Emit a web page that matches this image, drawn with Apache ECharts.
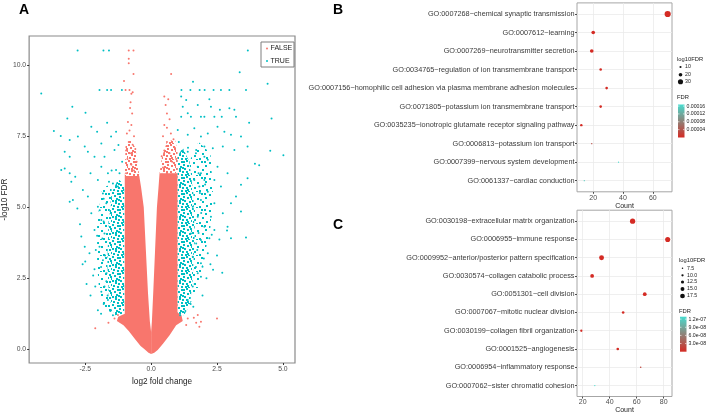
<!DOCTYPE html>
<html>
<head>
<meta charset="utf-8">
<script src="https://cdn.jsdelivr.net/npm/echarts@6/dist/echarts.min.js"></script>
<style>
  html, body { margin: 0; padding: 0; background: #fff; }
  #chart { width: 708px; height: 415px; }
</style>
</head>
<body>
<div id="chart"></div>
<script>
// ---- panel A : volcano (log2 fold change, -log10 FDR) ----
// dense parts of the cloud, read as outlines
const pinkLeftArm = [
  [-1.0, 6.1], [-1.0, 1.25], [-1.25, 1.15], [-1.3, 1.0], [-1.05, 0.85], [-0.85, 0.65],
  [-0.6, 0.35], [-0.4, 0.12], [-0.25, 0.0], [-0.1, -0.12], [0.0, -0.16], [0.0, 0.6],
  [-0.05, 1.0], [-0.12, 2.0], [-0.2, 3.5], [-0.28, 5.0], [-0.38, 5.7], [-0.45, 6.1]
];
const pinkRightArm = [
  [0.0, -0.16], [0.12, -0.12], [0.25, -0.02], [0.45, 0.2], [0.7, 0.5], [0.95, 0.85], [1.2, 1.0],
  [1.15, 1.2], [1.0, 1.3], [1.0, 6.2], [0.32, 6.2], [0.28, 5.7], [0.22, 5.0], [0.15, 3.5],
  [0.08, 2.0], [0.03, 1.0], [0.0, 0.6]
];
const pinkLeftTop = [[-1.0, 6.1], [-0.45, 6.1], [-0.52, 6.6], [-0.6, 7.1], [-0.8, 7.4], [-0.97, 7.2]];
const pinkRightTop = [[0.32, 6.2], [1.0, 6.2], [1.0, 7.0], [0.9, 7.4], [0.6, 7.3], [0.42, 6.8]];
const cyanLeftInner = [
  [-1.02, 1.25], [-1.02, 5.8], [-1.25, 6.0], [-1.5, 5.5], [-1.62, 4.5], [-1.66, 3.0], [-1.6, 1.8], [-1.38, 1.2]
];
const cyanLeftOuter = [
  [-1.5, 5.8], [-1.85, 5.7], [-2.05, 4.5], [-2.05, 3.0], [-1.95, 1.8], [-1.7, 1.3], [-1.38, 1.2],
  [-1.6, 1.8], [-1.66, 3.0], [-1.62, 4.5], [-1.5, 5.5]
];
const cyanRightInner = [
  [1.0, 1.25], [1.0, 6.8], [1.2, 7.1], [1.45, 6.6], [1.6, 5.5], [1.65, 4.0], [1.58, 2.5], [1.48, 1.6], [1.25, 1.2]
];
const cyanRightOuter = [
  [1.45, 6.6], [1.8, 7.3], [2.25, 6.9], [2.35, 5.5], [2.25, 4.3], [2.0, 3.2], [1.8, 2.2], [1.48, 1.6],
  [1.58, 2.5], [1.65, 4.0], [1.6, 5.5]
];
// single genes outside the dense parts
const falsePoints = [
  [-0.85, 10.52], [-0.67, 10.52], [-0.85, 10.23], [-0.85, 10.07], [-0.67, 9.69], [0.76, 9.69],
  [-1.03, 9.45], [-0.97, 9.13], [-0.82, 9.13],
  [-0.75, 9.0], [-0.7, 9.05], [-0.78, 8.7], [-0.8, 8.5], [-0.72, 8.3], [-0.88, 8.0], [-0.75, 7.9],
  [-0.82, 7.7], [-0.92, 7.6], [-0.65, 7.5], [-0.85, 7.3], [-0.7, 7.2], [-0.95, 7.0], [-0.6, 7.05],
  [-0.8, 6.9], [-0.9, 6.7], [-0.55, 6.6], [-0.75, 6.5], [-0.65, 6.3], [-0.95, 6.2], [-0.5, 6.1],
  [0.5, 8.9], [0.55, 8.6], [0.65, 8.8], [0.6, 8.3], [0.7, 8.1], [0.5, 7.9], [0.6, 7.8], [0.75, 7.6],
  [0.45, 7.5], [0.85, 7.4], [0.6, 7.3], [0.9, 7.1], [0.5, 7.0], [0.7, 6.9], [0.4, 6.8], [0.95, 6.7],
  [0.8, 6.6], [0.45, 6.4], [0.6, 6.2],
  [1.62, 1.11], [1.77, 1.21], [1.71, 0.94], [1.89, 0.97], [1.83, 0.8], [2.5, 1.09], [-2.12, 0.74],
  [-1.62, 0.94], [-1.39, 1.09], [-1.26, 1.21], [1.39, 1.09], [1.33, 0.86]
];
const truePoints = [
  [-2.79, 10.52], [-1.81, 10.52], [-1.6, 10.52], [3.67, 10.52], [3.36, 9.75], [-4.17, 9.01], [1.59, 9.42], [4.42, 9.35],
  [-1.96, 9.13], [-1.67, 9.13], [-1.52, 9.13], [-1.11, 9.13],
  [1.15, 9.13], [1.49, 9.13], [1.84, 9.13], [2.03, 9.13], [2.37, 9.13], [2.65, 9.13], [2.97, 9.13], [3.6, 9.13],
  [-2.99, 8.54], [-3.18, 8.13], [-2.49, 8.33], [4.57, 8.13], [3.72, 7.98],
  [-3.69, 7.69], [-3.43, 7.51], [-3.09, 7.37], [-3.28, 6.96], [-3.09, 6.78], [-2.78, 7.49], [-2.52, 7.14],
  [-2.27, 7.84], [-2.05, 7.66], [-1.89, 7.25], [-1.67, 7.98], [-1.52, 7.49], [-1.33, 7.66], [-1.24, 7.19],
  [-1.39, 7.02], [-1.77, 6.78], [-2.15, 6.78], [-2.4, 6.96],
  [-3.41, 6.31], [-3.28, 6.37], [-3.09, 6.2], [-3.03, 5.9], [-2.88, 6.08], [-3.09, 5.2], [-2.97, 5.26],
  [-2.8, 4.96], [-2.65, 3.97], [-2.52, 3.61], [-2.5, 3.09], [-2.34, 3.38], [-2.15, 2.82], [-2.02, 1.38],
  [-1.89, 2.03], [-2.12, 2.21], [-2.15, 4.2], [-2.27, 4.79], [-2.4, 5.38], [-2.59, 5.61], [-2.3, 6.2],
  [-2.02, 5.96], [-1.83, 5.49], [-1.89, 6.43], [-1.64, 6.2], [-1.45, 5.84], [-1.33, 6.31], [-1.26, 5.73],
  [-1.7, 5.14], [-2.02, 5.02], [-1.89, 4.55], [-1.77, 4.08], [-1.96, 3.61], [-1.83, 3.14], [-1.7, 2.68],
  [-1.77, 2.21], [-1.64, 1.74], [-1.52, 1.38],
  [-1.8, 4.5], [-1.85, 3.9], [-1.75, 3.3], [-1.9, 2.9], [-1.7, 2.4], [-1.65, 1.9], [-1.8, 1.6], [-1.55, 1.35],
  [-1.95, 4.9], [-1.8, 5.3], [-1.6, 5.9], [-1.5, 6.3], [-1.2, 6.2], [-1.1, 6.6], [-2.1, 3.5], [-2.2, 2.6],
  [-2.05, 4.0], [-2.3, 1.9], [-1.9, 1.25], [-1.45, 1.2], [-2.45, 2.3], [-2.6, 3.0], [-2.7, 4.4],
  [1.14, 8.9], [1.33, 8.78], [1.2, 8.54], [1.39, 8.31], [1.77, 8.6], [2.27, 8.54], [2.61, 8.43], [2.21, 8.8],
  [3.16, 8.43], [2.97, 8.49],
  [1.14, 8.19], [1.51, 8.19], [1.89, 8.19], [2.02, 8.19], [2.4, 8.19], [2.68, 8.19], [3.22, 8.19],
  [1.01, 7.72], [1.39, 7.55], [1.64, 7.78], [1.89, 7.49], [2.15, 7.6], [2.52, 7.84], [2.78, 7.66], [3.03, 7.55],
  [3.41, 7.49], [3.66, 7.14], [3.16, 7.02], [2.72, 7.14], [2.34, 7.08], [2.02, 7.14], [1.71, 7.02], [1.39, 6.96],
  [4.52, 6.99], [5.02, 6.83], [3.94, 6.53], [4.1, 6.48], [3.66, 6.02], [3.41, 5.79], [3.22, 5.38], [3.03, 5.14],
  [3.41, 4.85], [2.9, 4.32], [3.6, 3.94], [2.59, 3.87], [2.88, 4.18], [2.21, 3.91], [2.3, 4.03], [3.03, 3.91],
  [2.15, 6.67], [2.52, 6.43], [2.9, 6.2], [2.4, 5.96], [2.65, 5.73], [2.15, 5.55], [1.89, 5.26], [2.4, 5.14],
  [2.72, 4.79], [2.27, 4.67], [2.02, 4.32], [2.4, 4.2], [1.89, 3.85], [2.15, 3.38], [1.89, 3.03], [1.77, 2.68],
  [1.95, 2.91], [1.58, 2.21], [1.39, 1.74], [1.89, 2.56], [2.02, 6.78], [1.77, 6.43], [1.89, 6.2], [1.64, 5.96],
  [1.83, 5.73], [2.02, 5.96], [1.58, 5.02], [1.77, 4.67], [1.51, 4.08], [1.71, 3.73], [1.58, 3.26],
  [1.7, 6.9], [1.8, 6.2], [1.85, 5.5], [1.9, 4.8], [1.8, 4.1], [1.75, 3.5], [1.7, 2.9], [1.65, 2.3],
  [1.5, 1.6], [1.3, 1.35], [1.1, 1.2], [1.2, 7.0], [1.05, 7.3], [1.4, 7.1], [2.0, 3.2], [2.1, 2.5],
  [2.25, 3.0], [2.35, 2.8], [1.95, 1.9], [2.05, 5.8], [1.6, 1.5], [2.5, 3.3], [2.7, 2.7]
];
const volcanoXTicks = [-2.5, 0, 2.5, 5];
const volcanoYTicks = [0, 2.5, 5, 7.5, 10];

// ---- panel B : GO terms, up ----
const bTerms = [
  'GO:0007268~chemical synaptic transmission',
  'GO:0007612~learning',
  'GO:0007269~neurotransmitter secretion',
  'GO:0034765~regulation of ion transmembrane transport',
  'GO:0007156~homophilic cell adhesion via plasma membrane adhesion molecules',
  'GO:0071805~potassium ion transmembrane transport',
  'GO:0035235~ionotropic glutamate receptor signaling pathway',
  'GO:0006813~potassium ion transport',
  'GO:0007399~nervous system development',
  'GO:0061337~cardiac conduction'
];
const bCount = [70, 20, 19, 25, 29, 25, 12, 19, 37, 14];
const bLog10FDR = [37, 20, 20, 13, 13, 13, 12, 4.5, 3.78, 3.82];
const bSizeBreaks = [10, 20, 30];
const bFdrBreaks = [0.00016, 0.00012, 0.00008, 0.00004];
const bFdrMax = 0.000168;

// ---- panel C : GO terms, down ----
const cTerms = [
  'GO:0030198~extracellular matrix organization',
  'GO:0006955~immune response',
  'GO:0009952~anterior/posterior pattern specification',
  'GO:0030574~collagen catabolic process',
  'GO:0051301~cell division',
  'GO:0007067~mitotic nuclear division',
  'GO:0030199~collagen fibril organization',
  'GO:0001525~angiogenesis',
  'GO:0006954~inflammatory response',
  'GO:0007062~sister chromatid cohesion'
];
const cCount = [57, 83, 34, 27, 66, 50, 19, 46, 63, 29];
const cLog10FDR = [19.2, 18.5, 18, 14.5, 14.5, 11, 10, 11, 7.7, 6.89];
const cSizeBreaks = [7.5, 10, 12.5, 15, 17.5];
const cFdrBreaks = [1.2e-7, 9.0e-8, 6.0e-8, 3.0e-8];
const cFdrMax = 1.29e-7;

const FONT = 'Liberation Sans';
const PINK = '#F8766D', CYAN = '#00BFC4';
const LOW = [212, 43, 36], HIGH = [71, 220, 207];
const rowIdx = bTerms.map((t, i) => i + 1);

function mix(t) {
  t = Math.max(0, Math.min(1, t));
  const c = LOW.map((v, i) => Math.round(v + (HIGH[i] - v) * t));
  return 'rgb(' + c.join(',') + ')';
}
function bSize(v) { return 1.2 + 5.0 * (v - 3.78) / (37 - 3.78); }
function cSize(v) { return 1.3 + 4.0 * (v - 6.89) / (19.2 - 6.89); }
function fmtExp(v) { return v.toExponential(1).replace(/e-(\d)$/, 'e-0$1'); }

// speckled fill so that the dense parts read as many small dots
function speckle(color, tile, spots) {
  const cv = document.createElement('canvas');
  cv.width = tile; cv.height = tile;
  const ctx = cv.getContext('2d');
  ctx.fillStyle = color;
  spots.forEach(s => ctx.fillRect(s[0], s[1], 2, 2));
  return { image: cv, repeat: 'repeat' };
}
const denseSpots = [[0, 0], [5, 1], [10, 0], [13, 2], [2, 3], [7, 4], [11, 5], [15, 6], [4, 6], [0, 8], [8, 8],
  [13, 9], [3, 10], [6, 11], [10, 11], [15, 12], [1, 13], [5, 14], [9, 14], [12, 15], [14, 4], [7, 1],
  [3, 8], [11, 13], [6, 7]];
const sparseSpots = [[1, 2], [9, 1], [5, 6], [13, 5], [2, 11], [10, 9], [7, 14], [14, 13], [12, 1], [4, 15]];
const denseCyan = speckle(CYAN, 16, denseSpots);
const sparseCyan = speckle(CYAN, 16, sparseSpots);
const densePink = speckle(PINK, 16, denseSpots);

function polygonSeries(pts, fill) {
  return {
    type: 'custom', xAxisIndex: 0, yAxisIndex: 0, silent: true, clip: true, z: 1,
    data: [pts[0]],
    renderItem: function (params, api) {
      return {
        type: 'polygon',
        shape: { points: pts.map(p => api.coord(p)) },
        style: { fill: fill }
      };
    }
  };
}

function goX(grid, min, max, ticks) {
  return {
    gridIndex: grid, type: 'value', min: min, max: max,
    axisLine: { show: false, onZero: false },
    axisTick: { show: true, customValues: ticks, length: 2, lineStyle: { color: '#4d4d4d' } },
    axisLabel: { customValues: ticks, fontSize: 7, margin: 2.5, color: '#4d4d4d', fontFamily: FONT },
    splitLine: { show: true, lineStyle: { color: '#ebebeb', width: 0.8 } },
    name: 'Count', nameLocation: 'middle', nameGap: 10.5,
    nameTextStyle: { fontSize: 7, color: '#222', fontFamily: FONT }
  };
}
function goY(grid, terms) {
  return {
    gridIndex: grid, type: 'value', inverse: true, min: 0.4, max: 10.6, splitNumber: 10,
    axisLine: { show: false, onZero: false },
    axisTick: { show: true, customValues: rowIdx, length: 2, lineStyle: { color: '#4d4d4d' } },
    axisLabel: {
      customValues: rowIdx, fontSize: 7.3, margin: 2.5, color: '#3a3a3a', fontFamily: FONT,
      formatter: v => terms[Math.round(v) - 1]
    },
    splitLine: { show: true, lineStyle: { color: '#ebebeb', width: 0.8 } }
  };
}

function bubbleSeries(idx, counts, logs, sizeFn, fdrMax) {
  return {
    type: 'scatter', xAxisIndex: idx, yAxisIndex: idx, z: 3,
    data: counts.map((c, i) => [c, i + 1, logs[i]]),
    symbolSize: d => sizeFn(d[2]),
    itemStyle: { color: p => mix(Math.pow(10, -p.data[2]) / fdrMax), opacity: 1 }
  };
}

// legends of panels B and C, drawn like ggplot guides
function guide(x, titleY, rowsY, breaks, sizeFn, labelFmt, fdrTitleY, barTop, barH, fdrBreaks, fdrMax, fdrFmt) {
  const els = [];
  const txt = (tx, ty, s, size) => ({
    type: 'text', x: tx, y: ty,
    style: { text: s, fontSize: size, fontFamily: FONT, fill: '#222', verticalAlign: 'middle' }
  });
  els.push(txt(x, titleY, 'log10FDR', 5.8));
  breaks.forEach((b, i) => {
    els.push({ type: 'circle', shape: { cx: x + 3.5, cy: rowsY[i], r: sizeFn(b) / 2 }, style: { fill: '#111' } });
    els.push(txt(x + 8, rowsY[i], labelFmt(b), 5.2));
  });
  els.push(txt(x, fdrTitleY, 'FDR', 5.8));
  els.push({
    type: 'rect', shape: { x: x + 1, y: barTop, width: 6.5, height: barH },
    style: {
      fill: {
        type: 'linear', x: 0, y: 0, x2: 0, y2: 1,
        colorStops: [{ offset: 0, color: mix(1) }, { offset: 1, color: mix(0) }]
      }
    }
  });
  fdrBreaks.forEach(f => {
    const y = barTop + barH - f / fdrMax * barH;
    els.push({ type: 'line', shape: { x1: x + 1, y1: y, x2: x + 2.5, y2: y }, style: { stroke: '#fff', lineWidth: 0.6 } });
    els.push({ type: 'line', shape: { x1: x + 6, y1: y, x2: x + 7.5, y2: y }, style: { stroke: '#fff', lineWidth: 0.6 } });
    els.push(txt(x + 9.5, y, fdrFmt(f), 5.2));
  });
  return els;
}

const letter = (s, x, y) => ({
  type: 'text', x: x, y: y,
  style: { text: s, fontSize: 14, fontWeight: 'bold', fontFamily: FONT, fill: '#000', align: 'center', verticalAlign: 'middle' }
});

const chart = echarts.init(document.getElementById('chart'));
chart.setOption({
  animation: false,
  textStyle: { fontFamily: FONT },
  grid: [
    { left: 29, top: 36, width: 266, height: 327, show: true, borderColor: '#8a8a8a', borderWidth: 1.2 },
    { left: 577, top: 2.9, width: 95, height: 188.9, show: true, borderColor: '#a6a6a6', borderWidth: 1 },
    { left: 577, top: 210.2, width: 95, height: 189.2, show: true, borderColor: '#a6a6a6', borderWidth: 1 }
  ],
  xAxis: [
    {
      gridIndex: 0, type: 'value', min: -4.63, max: 5.46,
      axisLine: { show: false, onZero: false }, splitLine: { show: false },
      axisTick: { show: true, customValues: volcanoXTicks, length: 2, lineStyle: { color: '#333' } },
      axisLabel: { customValues: volcanoXTicks, formatter: v => v.toFixed(1), fontSize: 6.8, margin: 3, color: '#4d4d4d' },
      name: 'log2 fold change', nameLocation: 'middle', nameGap: 13,
      nameTextStyle: { fontSize: 8.2, color: '#222' }
    },
    goX(1, 9.1, 72.9, [20, 40, 60]),
    goX(2, 15.8, 86.2, [20, 40, 60, 80])
  ],
  yAxis: [
    {
      gridIndex: 0, type: 'value', min: -0.48, max: 11.03,
      axisLine: { show: false, onZero: false }, splitLine: { show: false },
      axisTick: { show: true, customValues: volcanoYTicks, length: 2, lineStyle: { color: '#333' } },
      axisLabel: { customValues: volcanoYTicks, formatter: v => v.toFixed(1), fontSize: 6.8, margin: 3, color: '#4d4d4d' },
      name: '-log10 FDR', nameLocation: 'middle', nameGap: 20,
      nameTextStyle: { fontSize: 8.2, color: '#222' }
    },
    goY(1, bTerms),
    goY(2, cTerms)
  ],
  series: [
    polygonSeries(cyanLeftOuter, sparseCyan),
    polygonSeries(cyanRightOuter, sparseCyan),
    polygonSeries(cyanLeftInner, denseCyan),
    polygonSeries(cyanRightInner, denseCyan),
    polygonSeries(pinkLeftArm, PINK),
    polygonSeries(pinkRightArm, PINK),
    polygonSeries(pinkLeftTop, densePink),
    polygonSeries(pinkRightTop, densePink),
    { type: 'scatter', name: 'TRUE', xAxisIndex: 0, yAxisIndex: 0, data: truePoints, symbolSize: 2, itemStyle: { color: CYAN, opacity: 1 }, z: 2 },
    { type: 'scatter', name: 'FALSE', xAxisIndex: 0, yAxisIndex: 0, data: falsePoints, symbolSize: 2, itemStyle: { color: PINK, opacity: 1 }, z: 2 },
    bubbleSeries(1, bCount, bLog10FDR, bSize, bFdrMax),
    bubbleSeries(2, cCount, cLog10FDR, cSize, cFdrMax)
  ],
  graphic: [
    letter('A', 24, 10), letter('B', 338, 10), letter('C', 338, 225),
    // panel A key
    { type: 'rect', shape: { x: 261, y: 42, width: 33, height: 25 }, style: { fill: '#fff', stroke: '#7f7f7f', lineWidth: 1 } },
    { type: 'circle', shape: { cx: 267, cy: 48.5, r: 1 }, style: { fill: PINK } },
    { type: 'circle', shape: { cx: 267, cy: 61, r: 1 }, style: { fill: CYAN } },
    { type: 'text', x: 270.5, y: 48.5, style: { text: 'FALSE', fontSize: 7, fontFamily: FONT, fill: '#222', verticalAlign: 'middle' } },
    { type: 'text', x: 270.5, y: 61, style: { text: 'TRUE', fontSize: 7, fontFamily: FONT, fill: '#222', verticalAlign: 'middle' } }
  ].concat(
    guide(677, 59.5, [67, 74.7, 81.7], bSizeBreaks, bSize, v => String(v), 97, 104.5, 33, bFdrBreaks, bFdrMax, v => v.toFixed(5)),
    guide(679, 260.3, [268.3, 275.3, 282, 289, 296], cSizeBreaks, cSize, v => v.toFixed(1), 311.7, 316.7, 35, cFdrBreaks, cFdrMax, fmtExp)
  )
});
</script>
</body>
</html>
